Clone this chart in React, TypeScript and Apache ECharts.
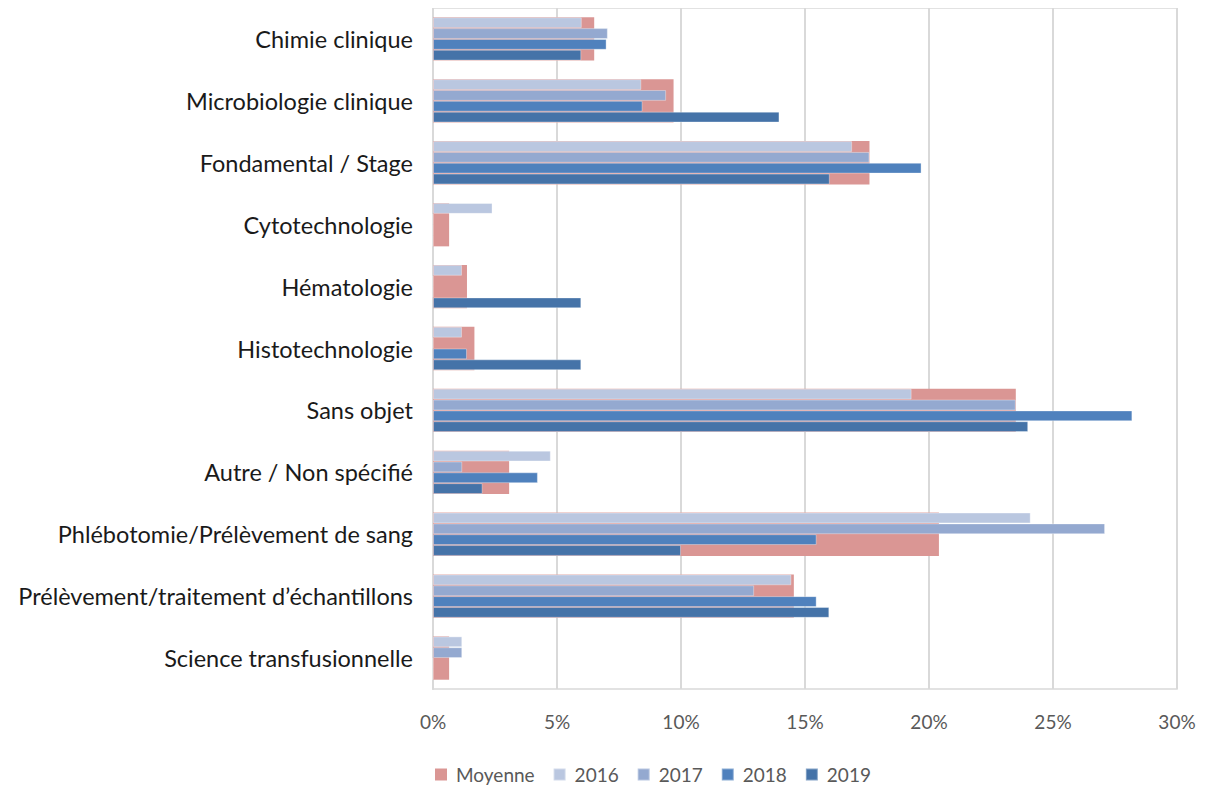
import React, { useEffect, useRef } from "react";
import * as echarts from "echarts";

const categories = [
  "Chimie clinique",
  "Microbiologie clinique",
  "Fondamental / Stage",
  "Cytotechnologie",
  "Hématologie",
  "Histotechnologie",
  "Sans objet",
  "Autre / Non spécifié",
  "Phlébotomie/Prélèvement de sang",
  "Prélèvement/traitement d’échantillons",
  "Science transfusionnelle",
];

const moyenne = [6.5, 9.7, 17.6, 0.65, 1.37, 1.67, 23.5, 3.07, 20.4, 14.55, 0.65];
const y2016 = [6.0, 8.4, 16.9, 2.4, 1.17, 1.17, 19.3, 4.75, 24.1, 14.45, 1.18];
const y2017 = [7.05, 9.4, 17.6, 0, 0, 0, 23.5, 1.18, 27.1, 12.95, 1.18];
const y2018 = [7.0, 8.45, 19.7, 0, 0, 1.37, 28.2, 4.23, 15.47, 15.47, 0];
const y2019 = [5.98, 13.97, 16.0, 0, 5.98, 5.98, 24.0, 2.0, 10.0, 15.98, 0];

const xTicks = [0, 5, 10, 15, 20, 25, 30];

const yearSeries = [
  { name: "2016", data: y2016, color: "#BAC7E0" },
  { name: "2017", data: y2017, color: "#94A9D0" },
  { name: "2018", data: y2018, color: "#4F81BD" },
  { name: "2019", data: y2019, color: "#4573A8" },
];

export default function App() {
  const ref = useRef<HTMLDivElement>(null);
  useEffect(() => {
    if (!ref.current) return;
    const chart = echarts.init(ref.current, null, { renderer: "svg" });
    const labelFont = "Lato, 'Open Sans', sans-serif";
    chart.setOption({
      animation: false,
      backgroundColor: "#ffffff",
      grid: {
        left: 425,
        right: 24,
        top: 0,
        height: 681,
        show: true,
        borderColor: "#d9d9d9",
        borderWidth: 1.5,
      },
      legend: {
        left: 422,
        top: 752,
        itemWidth: 12,
        itemHeight: 12,
        itemGap: 18,
        icon: "rect",
        data: ["Moyenne", "2016", "2017", "2018", "2019"],
        textStyle: {
          color: "#595959",
          fontSize: 19,
          fontFamily: labelFont,
          padding: [0, 0, 0, 4],
        },
      },
      xAxis: {
        type: "value",
        min: xTicks[0],
        max: xTicks[xTicks.length - 1],
        interval: 5,
        axisLine: { show: false },
        axisTick: { show: false },
        splitLine: { lineStyle: { color: "#d9d9d9", width: 2 } },
        axisLabel: {
          formatter: "{value}%",
          color: "#595959",
          fontSize: 19,
          fontFamily: labelFont,
          margin: 23,
        },
      },
      yAxis: [
        {
          type: "category",
          data: categories,
          inverse: true,
          axisLine: { lineStyle: { color: "#d9d9d9", width: 2 } },
          axisTick: { show: false },
          axisLabel: {
            color: "#1a1a1a",
            fontSize: 23.5,
            fontFamily: labelFont,
            margin: 20,
          },
        },
        {
          type: "category",
          data: categories,
          inverse: true,
          position: "left",
          axisLine: { show: false },
          axisTick: { show: false },
          axisLabel: { show: false },
        },
      ],
      series: [
        {
          name: "Moyenne",
          type: "bar",
          yAxisIndex: 0,
          data: moyenne,
          barCategoryGap: "30%",
          itemStyle: { color: "#DA9694" },
          z: 1,
        },
        ...yearSeries.map((s) => ({
          name: s.name,
          type: "bar",
          yAxisIndex: 1,
          data: s.data,
          barGap: "0%",
          barCategoryGap: "30%",
          itemStyle: { color: s.color, borderColor: "rgba(255,255,255,0.35)", borderWidth: 1 },
          z: 2,
        })),
      ],
    });
    return () => chart.dispose();
  }, []);
  return <div ref={ref} style={{ width: 1193, height: 778 }} />;
}
